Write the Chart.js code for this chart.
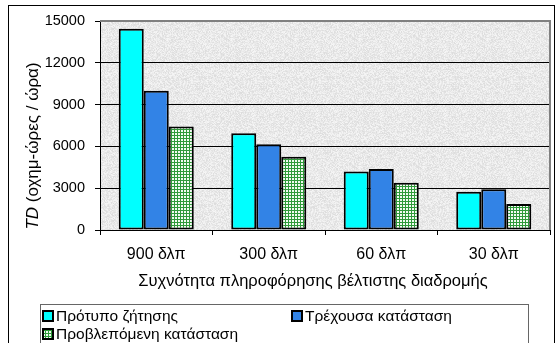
<!DOCTYPE html>
<html>
<head>
<meta charset="utf-8">
<style>
  html, body { margin: 0; padding: 0; background: #fff; }
  #wrap { width: 556px; height: 343px; position: relative; }
</style>
<script src="https://cdn.jsdelivr.net/npm/chart.js@4/dist/chart.umd.min.js"></script>
</head>
<body>
<div id="wrap"><canvas id="c" width="556" height="343"></canvas></div>
<script>
// Total delay per information update interval
const categories = ['900 δλπ', '300 δλπ', '60 δλπ', '30 δλπ'];
const demandModel = [14450, 6950, 4200, 2750];      // Πρότυπο ζήτησης
const currentState = [10000, 6150, 4380, 2920];     // Τρέχουσα κατάσταση
const predictedState = [7420, 5250, 3400, 1860];    // Προβλεπόμενη κατάσταση
const seriesNames = ['Πρότυπο ζήτησης', 'Τρέχουσα κατάσταση', 'Προβλεπόμενη κατάσταση'];
const yTicks = [0, 3000, 6000, 9000, 12000, 15000];
const xTitle = 'Συχνότητα πληροφόρησης βέλτιστης διαδρομής';
const yTitleItalic = 'TD';
const yTitleRest = ' (οχημ-ώρες / ώρα)';

const FONT = '"Liberation Sans", Arial, sans-serif';

// small green grid fill
function gridPattern() {
  const p = document.createElement('canvas');
  p.width = 3; p.height = 3;
  const g = p.getContext('2d');
  g.fillStyle = '#f2fbf2';
  g.fillRect(0, 0, 3, 3);
  g.fillStyle = '#2f9a3a';
  g.fillRect(0, 0, 3, 1);
  g.fillRect(0, 0, 1, 3);
  return g.createPattern(p, 'repeat');
}

// light granite texture for the plot area
function granitePattern() {
  const s = 64;
  const p = document.createElement('canvas');
  p.width = s; p.height = s;
  const g = p.getContext('2d');
  const img = g.createImageData(s, s);
  for (let y = 0; y < s; y++) {
    for (let x = 0; x < s; x++) {
      const h = Math.sin(x * 12.9898 + y * 78.233) * 43758.5453;
      const n = h - Math.floor(h);
      const v = Math.round(233 + (n - 0.5) * 26);
      const i = (y * s + x) * 4;
      img.data[i] = v; img.data[i + 1] = v; img.data[i + 2] = v; img.data[i + 3] = 255;
    }
  }
  g.putImageData(img, 0, 0);
  return g.createPattern(p, 'repeat');
}

const greenFill = gridPattern();
const plotFill = granitePattern();

const decor = {
  id: 'decor',
  beforeDraw(chart) {
    const ctx = chart.ctx;
    const a = chart.chartArea;
    ctx.save();
    ctx.fillStyle = '#fff';
    ctx.fillRect(0, 0, chart.width, chart.height);
    // outer frame
    ctx.strokeStyle = '#000';
    ctx.lineWidth = 1;
    ctx.strokeRect(8.5, 5.5, 546, 345);
    // plot background
    ctx.fillStyle = plotFill;
    ctx.fillRect(a.left, a.top, a.right - a.left, a.bottom - a.top);
    ctx.restore();
  },
  afterDraw(chart) {
    const ctx = chart.ctx;
    const a = chart.chartArea;
    const xs = chart.scales.x;
    ctx.save();
    // plot border top / right
    ctx.strokeStyle = '#808080';
    ctx.lineWidth = 2;
    ctx.beginPath();
    ctx.moveTo(a.left, a.top);
    ctx.lineTo(a.right, a.top);
    ctx.lineTo(a.right, a.bottom);
    ctx.stroke();

    // category labels
    ctx.fillStyle = '#000';
    ctx.font = '16px ' + FONT;
    ctx.textAlign = 'center';
    ctx.textBaseline = 'middle';
    categories.forEach((c, i) => {
      ctx.fillText(c, xs.getPixelForValue(i), 255);
    });
    // x title
    ctx.font = '16.5px ' + FONT;
    ctx.fillText(xTitle, 313, 281);

    // y title with italic TD
    ctx.translate(33, 146);
    ctx.rotate(-Math.PI / 2);
    ctx.textAlign = 'left';
    ctx.font = 'italic 17px ' + FONT;
    const w1 = ctx.measureText(yTitleItalic).width;
    ctx.font = '17px ' + FONT;
    const w2 = ctx.measureText(yTitleRest).width;
    const x0 = -(w1 + w2) / 2;
    ctx.font = 'italic 17px ' + FONT;
    ctx.fillText(yTitleItalic, x0, 0);
    ctx.font = '17px ' + FONT;
    ctx.fillText(yTitleRest, x0 + w1, 0);
    ctx.setTransform(1, 0, 0, 1, 0, 0);

    // legend
    ctx.strokeStyle = '#666';
    ctx.lineWidth = 1;
    ctx.strokeRect(40.5, 304.5, 488, 50);
    const items = [
      { x: 43, y: 311 },
      { x: 292, y: 311 },
      { x: 43, y: 329 }
    ];
    ctx.font = '15.5px ' + FONT;
    ctx.textBaseline = 'middle';
    ctx.textAlign = 'left';
    chart.data.datasets.forEach((ds, i) => {
      const it = items[i];
      ctx.fillStyle = ds.backgroundColor;
      ctx.fillRect(it.x, it.y, 10, 10);
      ctx.strokeStyle = '#000';
      ctx.lineWidth = 2;
      ctx.strokeRect(it.x, it.y, 10, 10);
      ctx.fillStyle = '#000';
      ctx.fillText(seriesNames[i], it.x + 13, it.y + 6);
    });
    ctx.restore();
  }
};

new Chart(document.getElementById('c'), {
  type: 'bar',
  data: {
    labels: categories,
    datasets: [
      { label: seriesNames[0], data: demandModel, backgroundColor: '#00ffff' },
      { label: seriesNames[1], data: currentState, backgroundColor: '#3283e6' },
      { label: seriesNames[2], data: predictedState, backgroundColor: greenFill }
    ].map(d => Object.assign(d, {
      borderColor: '#000',
      borderWidth: 2,
      borderSkipped: false,
      categoryPercentage: 0.667,
      barPercentage: 1.0
    }))
  },
  options: {
    responsive: false,
    animation: false,
    events: [],
    layout: { padding: { top: 21, right: 6, left: 0, bottom: 0 } },
    plugins: { legend: { display: false }, tooltip: { enabled: false }, title: { display: false } },
    scales: {
      x: {
        ticks: { display: false },
        grid: { offset: true, drawOnChartArea: false, drawTicks: true, tickLength: 5, color: '#000' },
        border: { display: true, color: '#000', width: 1 },
        afterFit(s) { s.height = 113; }
      },
      y: {
        min: 0,
        max: 15000,
        afterBuildTicks(s) { s.ticks = yTicks.map(v => ({ value: v })); },
        ticks: {
          color: '#000',
          font: { family: FONT, size: 14.5 },
          padding: 10,
          callback: v => String(v)
        },
        grid: {
          color: ctx => (ctx.tick && ctx.tick.value === 15000 ? 'rgba(0,0,0,0)' : '#000'),
          tickColor: '#000',
          tickLength: 5,
          lineWidth: 1
        },
        border: { display: true, color: '#000', width: 1 },
        afterFit(s) { s.width = 100; }
      }
    }
  },
  plugins: [decor]
});
</script>
</body>
</html>
